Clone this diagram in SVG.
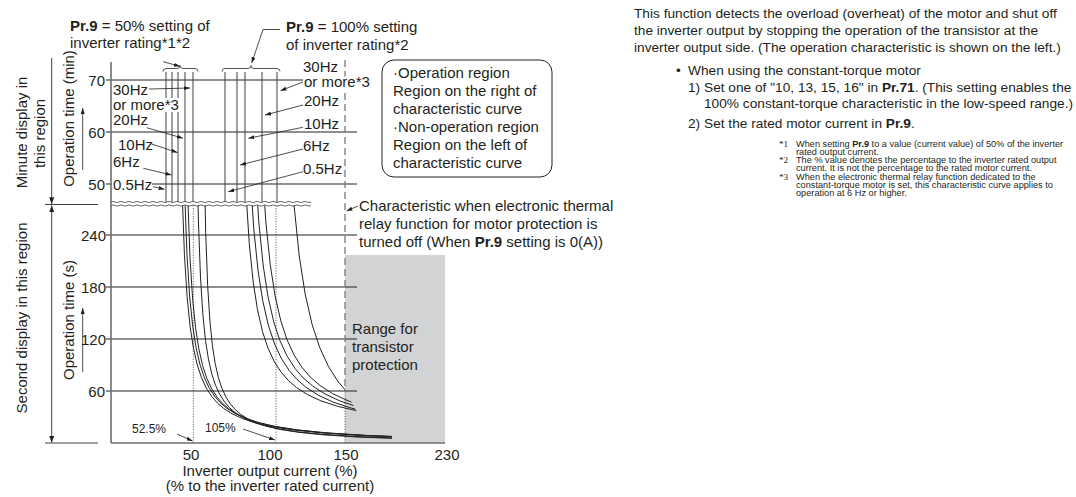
<svg xmlns="http://www.w3.org/2000/svg" width="1076" height="497" viewBox="0 0 1076 497">
<style>
text { font-family: "Liberation Sans", Arial, Helvetica, sans-serif; fill: #231f20; }
.f15 { font-size: 15px; }
.f12 { font-size: 12px; }
.b { font-weight: bold; }
.grid { stroke: #231f20; stroke-width: 1; fill: none; }
.axis { stroke: #6d6e71; stroke-width: 1.6; fill: none; }
.vl { stroke: #414042; stroke-width: 1; }
.ld { stroke: #231f20; stroke-width: 0.8; fill: none; marker-end: url(#ah); }
.cv { fill: none; stroke: #231f20; stroke-width: 1; vector-effect: non-scaling-stroke; }
.dot { stroke: #414042; stroke-width: 0.9; stroke-dasharray: 1 1.6; fill: none; }
.dash { stroke: #808285; stroke-width: 1.4; stroke-dasharray: 7 4; fill: none; }
.wave { fill: none; stroke: #58595b; stroke-width: 0.9; }
.bg { fill: #ffffff; }
.para { font-size: 13.7px; }
.fn { font-size: 9.2px; }
.fnm { font-family: "Liberation Serif", serif; font-size: 9.2px; }
.br { fill: none; stroke: #414042; stroke-width: 0.9; }
.bar { stroke: #414042; stroke-width: 1; fill: none; }
</style>
<defs>
<marker id="ah" viewBox="0 0 6 4" refX="6" refY="2" markerWidth="6" markerHeight="4" markerUnits="userSpaceOnUse" orient="auto"><path d="M0,0 L6,2 L0,4 z" fill="#231f20"/></marker>
<marker id="ah2" viewBox="0 0 8 6" refX="8" refY="3" markerWidth="7" markerHeight="5" markerUnits="userSpaceOnUse" orient="auto-start-reverse"><path d="M0,0 L8,3 L0,6 z" fill="#231f20"/></marker>
<path id="hyp" class="cv" d="M0.0833,12 L0.125,8 L0.1667,6 L0.2222,4.5 L0.2857,3.5 L0.3571,2.8 L0.4348,2.3 L0.5263,1.9 L0.625,1.6 L0.7407,1.35 L0.8696,1.15 L1,1 L1.1494,0.87 L1.3514,0.74 L1.6,0.625 L1.9,0.5263 L2.3,0.4348 L2.8,0.3571 L3.5,0.2857 L4.5,0.2222 L6,0.1667 L8,0.125 L12,0.0833"/>
<path id="wv" class="wave" d="M111,0 q2,-1.2 4,0 t4,0 t4,0 t4,0 t4,0 t4,0 t4,0 t4,0 t4,0 t4,0 t4,0 t4,0 t4,0 t4,0 t4,0 t4,0 t4,0 t4,0 t4,0 t4,0 t4,0 t4,0 t4,0 t4,0 t4,0 t4,0 t4,0 t4,0 t4,0 t4,0 t4,0 t4,0 t4,0 t4,0 t4,0 t4,0 t4,0 t4,0 t4,0 t4,0 t4,0 t4,0 t4,0 t4,0 t4,0 t4,0 t4,0 t4,0 t4,0 t4,0"/>
<clipPath id="clipL"><rect x="111" y="205.5" width="281" height="292"/></clipPath>
<clipPath id="clipR"><polygon points="200,205.5 345,205.5 345,390 360,417.5 360,497 200,497"/></clipPath>
</defs>

<g id="transistor-range">
<rect x="345" y="255" width="100" height="188" fill="#d1d3d4"/>
<text class="f15" x="352" y="334">Range for</text>
<text class="f15" x="352" y="352">transistor</text>
<text class="f15" x="352" y="370">protection</text>
</g>

<g id="grid">
<line class="grid" x1="111" y1="80" x2="357" y2="80"/>
<line class="grid" x1="111" y1="132" x2="357" y2="132"/>
<line class="grid" x1="111" y1="184" x2="357" y2="184"/>
<line class="grid" x1="111" y1="235" x2="357" y2="235"/>
<line class="grid" x1="111" y1="287" x2="357" y2="287"/>
<line class="grid" x1="111" y1="339" x2="357" y2="339"/>
<line class="grid" x1="111" y1="391" x2="357" y2="391"/>
<line class="grid" x1="106" y1="80" x2="111" y2="80"/>
<line class="grid" x1="106" y1="132" x2="111" y2="132"/>
<line class="grid" x1="106" y1="184" x2="111" y2="184"/>
<line class="grid" x1="106" y1="235" x2="111" y2="235"/>
<line class="grid" x1="106" y1="287" x2="111" y2="287"/>
<line class="grid" x1="106" y1="339" x2="111" y2="339"/>
<line class="grid" x1="106" y1="391" x2="111" y2="391"/>
</g>

<g id="y-labels" class="f15" text-anchor="end">
<text x="105" y="85.5">70</text>
<text x="105" y="137.5">60</text>
<text x="105" y="189.5">50</text>
<text x="106" y="240.5">240</text>
<text x="106" y="292.5">180</text>
<text x="106" y="344.5">120</text>
<text x="105" y="396.5">60</text>
</g>

<g id="axes">
<line class="axis" x1="111" y1="62" x2="111" y2="443"/>
<line class="axis" x1="111" y1="443" x2="445" y2="443"/>
</g>

<g id="limits">
<line class="dash" x1="345" y1="60" x2="345" y2="390"/>
<line class="dot" x1="345" y1="390" x2="345" y2="443"/>
<line class="dot" x1="193.3" y1="205.5" x2="193.3" y2="443"/>
<line class="dot" x1="276" y1="205.5" x2="276" y2="443"/>
</g>

<g id="minute-lines">
<line class="vl" x1="166" y1="72" x2="166" y2="202"/>
<line class="vl" x1="172" y1="72" x2="172" y2="202"/>
<line class="vl" x1="178" y1="72" x2="178" y2="202"/>
<line class="vl" x1="185" y1="72" x2="185" y2="202"/>
<line class="vl" x1="193" y1="72" x2="193" y2="202"/>
<line class="vl" x1="225" y1="72" x2="225" y2="202"/>
<line class="vl" x1="237" y1="72" x2="237" y2="202"/>
<line class="vl" x1="245" y1="72" x2="245" y2="202"/>
<line class="vl" x1="262" y1="72" x2="262" y2="202"/>
<line class="vl" x1="277" y1="72" x2="277" y2="202"/>
</g>

<g id="break">
<use href="#wv" transform="translate(0,202)"/>
<use href="#wv" transform="translate(0,205.5)"/>
</g>

<g id="curves-50" clip-path="url(#clipL)">
<use href="#hyp" transform="translate(175.1,445) scale(42.15,-42.15)"/>
<use href="#hyp" transform="translate(177.45,445) scale(42.57,-42.57)"/>
<use href="#hyp" transform="translate(180.7,445) scale(41.74,-41.74)"/>
<use href="#hyp" transform="translate(192.2,445) scale(37.32,-37.32)"/>
<use href="#hyp" transform="translate(199.8,445) scale(35.41,-35.41)"/>
</g>
<g id="curves-100" clip-path="url(#clipR)">
<use href="#hyp" transform="translate(233.7,435) scale(54.59,-54.59)"/>
<use href="#hyp" transform="translate(236.4,440) scale(60.55,-60.55)"/>
<use href="#hyp" transform="translate(241.07,440) scale(62.14,-62.14)"/>
<use href="#hyp" transform="translate(247.8,440) scale(62.71,-62.71)"/>
<use href="#hyp" transform="translate(271.9,470) scale(76.49,-76.49)"/>
</g>

<g id="title-50">
<text class="f15" x="70" y="31"><tspan class="b">Pr.9</tspan> = 50% setting of</text>
<text class="f15" x="70" y="48">inverter rating*1*2</text>
<path class="br" d="M163,71.5 Q163,68.5 166,68.5 L177,68.5 Q180,68.5 180,65.5 Q180,68.5 183,68.5 L195,68.5 Q198,68.5 198,71.5"/>
</g>
<g id="title-100">
<text class="f15" x="286" y="32"><tspan class="b">Pr.9</tspan> = 100% setting</text>
<text class="f15" x="286" y="50">of inverter rating*2</text>
<path class="br" d="M222,71.5 Q222,68.5 225,68.5 L248,68.5 Q251,68.5 251,65.5 Q251,68.5 254,68.5 L277,68.5 Q280,68.5 280,71.5"/>
</g>

<g id="labels-50" class="f15">
<text x="113" y="94.5">30Hz</text>
<rect class="bg" x="112" y="98" width="67" height="14"/>
<text x="113" y="109.5">or more*3</text>
<text x="113" y="125">20Hz</text>
<text x="118" y="150">10Hz</text>
<text x="113" y="167">6Hz</text>
<rect class="bg" x="112" y="179" width="40" height="13"/>
<text x="113" y="190">0.5Hz</text>
</g>
<g id="labels-100" class="f15">
<text x="303" y="72">30Hz</text>
<rect class="bg" x="303" y="76.5" width="67" height="13"/>
<text x="304" y="87">or more*3</text>
<text x="304" y="105.5">20Hz</text>
<text x="304" y="128.5">10Hz</text>
<text x="303" y="150.5">6Hz</text>
<text x="303" y="173.5">0.5Hz</text>
</g>

<g id="info-box">
<rect x="382" y="60" width="170" height="117" rx="12" fill="#fff" stroke="#231f20" stroke-width="1"/>
<text class="f15" x="393" y="78">·Operation region</text>
<text class="f15" x="393" y="96">Region on the right of</text>
<text class="f15" x="393" y="114">characteristic curve</text>
<text class="f15" x="393" y="132">·Non-operation region</text>
<text class="f15" x="393" y="150">Region on the left of</text>
<text class="f15" x="393" y="168">characteristic curve</text>
</g>

<g id="off-note">
<text class="f15" x="359" y="210.5">Characteristic when electronic thermal</text>
<text class="f15" x="359" y="228.5">relay function for motor protection is</text>
<text class="f15" x="359" y="246.5">turned off (When <tspan class="b">Pr.9</tspan> setting is 0(A))</text>
</g>

<g id="axis-titles">
<text class="f15" transform="translate(27,132.5) rotate(-90)" text-anchor="middle">Minute display in</text>
<text class="f15" transform="translate(44.5,133.5) rotate(-90)" text-anchor="middle">this region</text>
<text class="f15" transform="translate(74,118.5) rotate(-90)" text-anchor="middle">Operation time (min)</text>
<text class="f15" transform="translate(27,318) rotate(-90)" text-anchor="middle">Second display in this region</text>
<text class="f15" transform="translate(74,320) rotate(-90)" text-anchor="middle">Operation time (s)</text>
<text class="f15" x="191" y="460" text-anchor="middle">50</text>
<text class="f15" x="270" y="460" text-anchor="middle">100</text>
<text class="f15" x="346" y="460" text-anchor="middle">150</text>
<text class="f15" x="447" y="460" text-anchor="middle">230</text>
<text class="f15" x="270" y="475.5" text-anchor="middle">Inverter output current (%)</text>
<text class="f15" x="270" y="490.5" text-anchor="middle">(% to the inverter rated current)</text>
<text class="f12" x="132" y="433">52.5%</text>
<text class="f12" x="205" y="432">105%</text>
</g>

<g id="connectors">
<path class="ld" d="M163,61.7 L180,66.3"/>
<path class="ld" d="M280,29.5 H263 L251.7,63"/>
<path class="ld" d="M149,89 L190,88"/>
<path class="ld" d="M146.7,127.7 L183,138.2"/>
<path class="ld" d="M151.7,144 L177.5,152.6"/>
<path class="ld" d="M143.3,168.3 L171.5,175"/>
<path class="ld" d="M153.3,186.7 L164.5,189.3"/>
<path class="ld" d="M303,82 L280.5,90.7"/>
<path class="ld" d="M303,105 L265,115"/>
<path class="ld" d="M303,127.3 L248.3,138.3"/>
<path class="ld" d="M303,149 L240,165"/>
<path class="ld" d="M303,171.7 L228.3,191.7"/>
<path class="ld" d="M358,206 L346.5,211"/>
<path class="ld" d="M177,434 L192.5,441"/>
<path class="ld" d="M243,429 L275,440"/>
<line class="bar" x1="51.7" y1="58" x2="51.7" y2="204" marker-end="url(#ah2)"/>
<line class="bar" x1="45" y1="204.5" x2="98" y2="204.5"/>
<line class="bar" x1="51.7" y1="205.5" x2="51.7" y2="442.5" marker-start="url(#ah2)" marker-end="url(#ah2)"/>
<line class="bar" x1="45" y1="443" x2="98" y2="443"/>
<line class="ld" x1="82.7" y1="170" x2="82.7" y2="108"/>
<line class="ld" x1="82.7" y1="372" x2="82.7" y2="308"/>
</g>

<g id="description">
<text class="para" x="634" y="18">This function detects the overload (overheat) of the motor and shut off</text>
<text class="para" x="634" y="35">the inverter output by stopping the operation of the transistor at the</text>
<text class="para" x="634" y="52">inverter output side. (The operation characteristic is shown on the left.)</text>
<text class="para" x="676" y="75">•</text>
<text class="para" x="688" y="75">When using the constant-torque motor</text>
<text class="para" x="688" y="91.5">1)</text>
<text class="para" x="704" y="91.5">Set one of "10, 13, 15, 16" in <tspan class="b">Pr.71</tspan>. (This setting enables the</text>
<text class="para" x="704" y="108">100% constant-torque characteristic in the low-speed range.)</text>
<text class="para" x="688" y="128">2)</text>
<text class="para" x="704" y="128">Set the rated motor current in <tspan class="b">Pr.9</tspan>.</text>
<text class="fnm" x="779" y="146.5">*1</text>
<text class="fn" x="796" y="146.5">When setting <tspan class="b">Pr.9</tspan> to a value (current value) of 50% of the inverter</text>
<text class="fn" x="796" y="154.5">rated output current.</text>
<text class="fnm" x="779" y="163">*2</text>
<text class="fn" x="796" y="163">The % value denotes the percentage to the inverter rated output</text>
<text class="fn" x="796" y="171">current. It is not the percentage to the rated motor current.</text>
<text class="fnm" x="779" y="179.5">*3</text>
<text class="fn" x="796" y="179.5">When the electronic thermal relay function dedicated to the</text>
<text class="fn" x="796" y="187.5">constant-torque motor is set, this characteristic curve applies to</text>
<text class="fn" x="796" y="195.5">operation at 6 Hz or higher.</text>
</g>
</svg>
